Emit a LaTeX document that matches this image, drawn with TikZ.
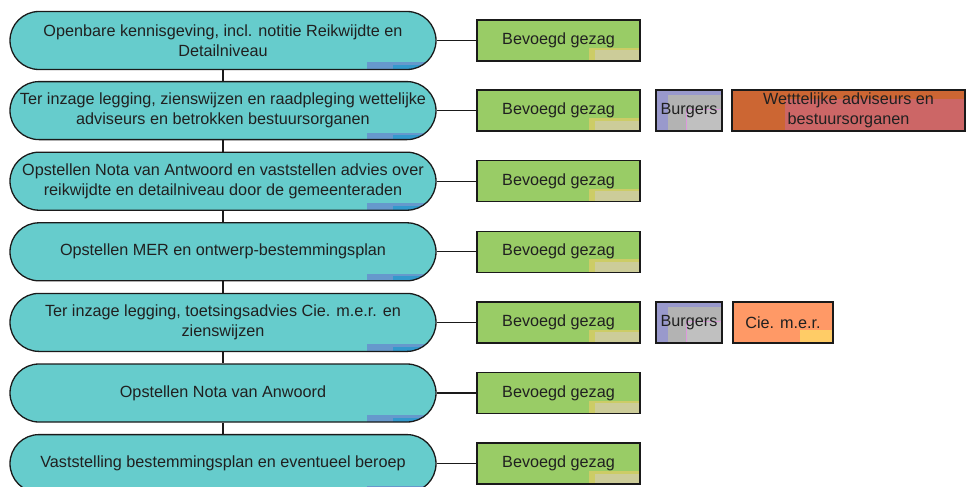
\documentclass[tikz,border=0pt]{standalone}
\usepackage{fontspec}
\setmainfont{Liberation Sans}
\definecolor{stfill}{HTML}{66CCCC}
\definecolor{stmkA}{HTML}{6699CC}
\definecolor{stmkB}{HTML}{3399CC}
\definecolor{gfill}{HTML}{99CC66}
\definecolor{gmkA}{HTML}{CCCC66}
\definecolor{gmkB}{HTML}{CCCC99}
\definecolor{bpurple}{HTML}{9999CC}
\definecolor{bgrayA}{HTML}{B3B3B3}
\definecolor{bgrayB}{HTML}{C0C0C0}
\definecolor{bpink}{HTML}{DD99DD}
\definecolor{worange}{HTML}{CC6633}
\definecolor{wred}{HTML}{CC6666}
\definecolor{corange}{HTML}{FF9966}
\definecolor{cyellow}{HTML}{FFCC66}
\definecolor{txt}{HTML}{202020}
\definecolor{edge}{HTML}{1A1A1A}
\begin{document}
\begin{tikzpicture}[x=1pt,y=-1pt,
  basebox/.style={draw=edge, line width=1.3pt, inner sep=0pt, align=center,
    text=txt, font=\fontsize{16.2}{20}\selectfont},
  stadium/.style={basebox, fill=stfill, rounded corners=29pt,
    minimum width=426pt, minimum height=58pt,
    path picture={
      \fill[stmkA, sharp corners] ([xshift=-69pt]path picture bounding box.south east) rectangle ([yshift=7pt]path picture bounding box.south east);
      \fill[stmkB, sharp corners] ([xshift=-43pt]path picture bounding box.south east) rectangle ([yshift=4.5pt]path picture bounding box.south east);
    }},
  gbox/.style={basebox, fill=gfill, minimum width=163pt, minimum height=41pt,
    path picture={
      \fill[gmkA] ([xshift=-51pt]path picture bounding box.south east) rectangle ([yshift=13pt]path picture bounding box.south east);
      \fill[gmkB] ([xshift=-45pt]path picture bounding box.south east) rectangle ([yshift=10.5pt]path picture bounding box.south east);
    }},
  burgbox/.style={basebox, fill=bpurple, minimum width=66pt, minimum height=41pt,
    path picture={
      \fill[bgrayA] ([xshift=12pt,yshift=-5pt]path picture bounding box.north west) rectangle (path picture bounding box.south east);
      \fill[bgrayB] ([xshift=30pt,yshift=-19pt]path picture bounding box.north west) rectangle (path picture bounding box.south east);
      \draw[bpink, line width=0.8pt] ([xshift=30pt]path picture bounding box.south west) -- ([xshift=30pt,yshift=-19pt]path picture bounding box.north west) -- ([yshift=-19pt]path picture bounding box.north east);
    }},
  wetbox/.style={basebox, fill=worange, minimum width=233pt, minimum height=41pt,
    path picture={
      \fill[wred] ([xshift=53pt,yshift=-8.5pt]path picture bounding box.north west) rectangle (path picture bounding box.south east);
    }},
  ciebox/.style={basebox, fill=corange, minimum width=100pt, minimum height=41pt,
    path picture={
      \fill[cyellow] ([xshift=-33pt]path picture bounding box.south east) rectangle ([yshift=13pt]path picture bounding box.south east);
    }},
  conn/.style={draw=edge, line width=1.3pt}
]
\useasboundingbox (0,0) rectangle (966,487);
\clip (0,0) rectangle (966,487);

\node[stadium] (s1) at (223,40.5) {Openbare kennisgeving, incl. notitie Reikwijdte en\\Detailniveau};
\node[stadium] (s2) at (223,110.6) {Ter inzage legging, zienswijzen en raadpleging wettelijke\\adviseurs en betrokken bestuursorganen};
\node[stadium] (s3) at (223,181.2) {Opstellen Nota van Antwoord en vaststellen advies over\\reikwijdte en detailniveau door de gemeenteraden};
\node[stadium] (s4) at (223,251.8) {Opstellen MER en ontwerp-bestemmingsplan};
\node[stadium] (s5) at (223,322.4) {Ter inzage legging, toetsingsadvies Cie. m.e.r. en\\zienswijzen};
\node[stadium] (s6) at (223,393) {Opstellen Nota van Anwoord};
\node[stadium] (s7) at (223,463.6) {Vaststelling bestemmingsplan en eventueel beroep};

\node[gbox] (g1) at (558.5,40.5) {Bevoegd gezag};
\node[gbox] (g2) at (558.5,110.6) {Bevoegd gezag};
\node[gbox] (g3) at (558.5,181.2) {Bevoegd gezag};
\node[gbox] (g4) at (558.5,251.8) {Bevoegd gezag};
\node[gbox] (g5) at (558.5,322.4) {Bevoegd gezag};
\node[gbox] (g6) at (558.5,393) {Bevoegd gezag};
\node[gbox] (g7) at (558.5,463.6) {Bevoegd gezag};

\node[burgbox] (b2) at (689,110.6) {Burgers};
\node[wetbox] (w2) at (848.5,110.6) {Wetttelijke adviseurs en\\bestuursorganen};
\node[burgbox] (b5) at (689,322.4) {Burgers};
\node[ciebox] (c5) at (783,322.4) {Cie. m.e.r.};

\draw[conn] (s1) -- (s2);
\draw[conn] (s2) -- (s3);
\draw[conn] (s3) -- (s4);
\draw[conn] (s4) -- (s5);
\draw[conn] (s5) -- (s6);
\draw[conn] (s6) -- (s7);
\foreach \i in {1,...,7} { \draw[conn] (s\i) -- (g\i); }
\end{tikzpicture}
\end{document}
